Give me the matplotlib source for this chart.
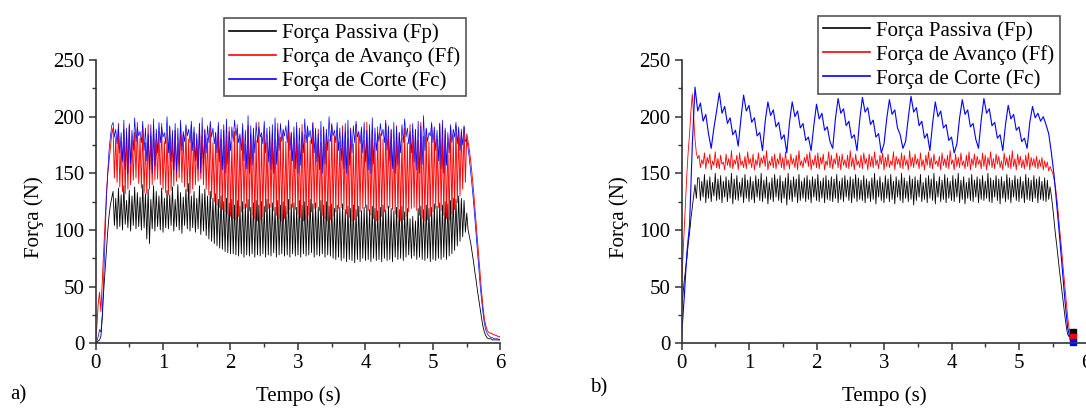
import numpy as np
import matplotlib
matplotlib.use("Agg")
import matplotlib.pyplot as plt
from matplotlib.ticker import MultipleLocator

plt.rcParams['font.family'] = ['Liberation Serif', 'DejaVu Serif']

# ---------------- data ----------------
labels = ["Força Passiva (Fp)", "Força de Avanço (Ff)", "Força de Corte (Fc)"]
xlabel = "Tempo (s)"
ylabel = "Força (N)"
panel_tags = ["a)", "b)"]
xticks = [0, 1, 2, 3, 4, 5, 6]
yticks = [0, 50, 100, 150, 200, 250]

# sampling interval of each recorded signal (s): [Fp, Ff, Fc]
dt_a = [0.02, 0.02, 0.02]
dt_b = [0.02, 0.02, 0.04]

# panel a) -- 301 samples each, t = 0 ... 6.0 s
fp_a = [0, 1, 2, 3, 6, 22, 45, 62, 80, 98, 112, 122, 128,
        134, 104, 128, 101, 137, 103, 131, 100, 139, 105, 126, 102, 135, 99, 130, 104, 138, 101, 133, 103,
        129, 100, 140, 102, 132, 92, 136, 88, 127, 101, 139, 99, 134, 103, 130, 100, 137, 98, 128, 102,
        135, 101, 131, 104, 138, 99, 127, 103, 140, 100, 133, 97, 129, 104, 136, 101, 141, 99, 130, 102,
        134, 98, 128, 101, 139, 96, 132, 99,
        136, 95, 130, 92, 134, 90, 128, 88, 132, 86, 127, 84, 130, 83, 125, 81, 128, 80, 124, 79, 127, 79,
        122, 78, 126, 77, 121, 79, 125, 76, 123, 78, 127, 77, 120, 79, 124, 76, 126, 78, 122, 77,
        125, 79, 121, 76, 127, 78, 123, 77, 124, 80, 120, 76, 126, 78, 122, 79, 125, 77, 121, 78,
        127, 76, 123, 79, 124, 77, 120, 78, 126, 76, 122, 79, 125, 77, 121, 78, 127, 80, 123, 76,
        124, 78, 120, 77, 126, 79, 122, 76, 125, 78, 121, 77, 123, 75, 119, 74, 122, 76, 120, 73,
        123, 75, 118, 72, 121, 74, 119, 73, 122, 71,
        118, 74, 121, 72, 117, 75, 120, 73, 122, 74, 118, 72, 121, 75, 119, 73, 117, 74, 120, 72,
        122, 75, 118, 73, 121, 74, 119, 72, 117, 76, 120, 74, 118, 75, 121, 73, 116, 76, 119, 78,
        110, 75, 112, 77, 108, 74, 119, 76, 121, 74, 118, 73, 122, 75, 119, 72, 120, 74, 123, 73,
        121, 75, 124, 74, 122, 76, 125, 74, 123, 77,
        126, 79, 128, 82, 127, 86, 130, 90, 128, 94, 126, 98,
        115, 100, 94, 88, 80, 72, 63, 55, 46, 38, 30, 22, 15, 10, 7, 5, 4, 4, 4, 3, 3, 3, 3, 3, 3, 3]

ff_a = [2, 15, 35, 45, 28, 55, 80, 105, 130, 148, 160, 172, 185,
        190, 146, 182, 142, 194, 138, 178, 134, 188, 132, 184, 136, 192, 140, 179, 144, 186, 146, 195, 141,
        181, 137, 189, 133, 177, 132, 193, 136, 183, 140, 190, 144, 180, 145, 187, 140, 194, 136, 178, 133,
        185, 131, 191, 135, 182, 139, 188, 143, 176, 146, 193, 142, 184, 138, 189, 134, 180, 132, 192, 136,
        186, 140, 179, 143, 194, 145, 183, 140,
        189, 136, 181, 131, 190, 128, 177, 125, 186, 122, 192, 120, 180, 118, 188, 116, 183, 114, 191, 112, 178, 110,
        187, 109, 193, 112, 181, 116, 189, 119, 176, 120, 192, 117, 184, 113, 190, 110, 179, 108, 195, 109,
        183, 112, 188, 116, 177, 119, 191, 120, 185, 117, 180, 113, 194, 110, 182, 108, 189, 110, 178, 114,
        192, 118, 186, 120, 181, 118, 190, 114, 176, 111, 193, 108, 184, 109, 188, 113, 179, 116, 195, 119,
        182, 120, 189, 117, 177, 113, 191, 110, 185, 108, 180, 109, 194, 112, 183, 116, 188, 119, 178, 120,
        192, 118, 186, 114, 181, 111, 190, 108, 176, 109, 193, 112, 184, 116, 189, 119, 179, 120, 195, 117,
        182, 113, 188, 110, 177, 108, 191, 109, 185, 112, 180, 116, 194, 119, 183, 120, 189, 118, 178, 114,
        192, 111, 186, 108, 181, 109, 190, 112, 177, 116, 193, 119, 184, 120, 188, 117, 179, 113, 195, 110,
        183, 108, 189, 109, 178, 112, 191, 116, 185, 119, 180, 120, 194, 117, 182, 113, 188, 110, 177, 109,
        190, 114, 184, 118, 192, 124, 186, 130, 189, 136, 191, 142,
        185, 178, 170, 160, 148, 135, 120, 105, 90, 75, 60, 45, 33, 22, 16, 12, 10, 9, 9, 8, 8, 7, 7, 6, 6, 5]

fc_a = [0, 2, 6, 12, 10, 25, 55, 90, 125, 150, 170, 182, 192,
        195, 182, 189, 176, 192, 168, 186, 160, 197, 153, 190, 150, 194, 158, 188, 170, 199, 178, 191, 183,
        187, 177, 196, 170, 190, 161, 185, 154, 193, 150, 198, 157, 189, 168, 195, 177, 191, 182, 186, 176,
        200, 168, 192, 160, 188, 153, 194, 150, 190, 158, 197, 170, 187, 178, 193, 183, 189, 177, 196, 170,
        191, 161, 185, 154, 194, 150, 199, 157, 188, 168, 192, 177, 196, 182, 190, 176, 186, 168, 195, 160,
        189, 153, 193, 150, 198, 158, 187, 170, 191, 178, 197, 183, 190, 177, 185, 170, 194, 161, 188, 154,
        201, 150, 192, 157, 189, 168, 195, 177, 191, 182, 186, 176, 196, 168, 190, 160, 187, 153, 193, 150,
        199, 158, 189, 170, 194, 178, 188, 183, 192, 177, 197, 170, 186, 161, 191, 154, 195, 150, 190, 157,
        187, 168, 198, 177, 192, 182, 188, 176, 194, 168, 190, 160, 185, 153, 196, 150, 191, 158, 189, 170,
        200, 178, 193, 183, 188, 177, 195, 170, 190, 161, 186, 154, 194, 150, 197, 157, 189, 168, 192, 177,
        196, 182, 187, 176, 191, 168, 195, 160, 188, 153, 193, 150, 199, 158, 190, 170, 186, 178, 194, 183,
        189, 177, 197, 170, 192, 161, 188, 154, 195, 150, 191, 157, 186, 168, 193, 177, 198, 182, 190, 176,
        187, 168, 194, 160, 189, 153, 196, 150, 192, 158, 201, 170, 190, 178, 186, 183, 195, 177, 191, 170,
        188, 161, 194, 154, 197, 150, 190, 157, 186, 168, 193, 177, 189, 182, 195, 176, 191, 170, 187, 175,
        192, 178,
        180, 172, 162, 150, 138, 125, 110, 95, 80, 65, 50, 38, 27, 18, 12, 9, 7, 6, 5, 5, 4, 4, 4, 4, 3, 3]

# panel b) -- Fp, Ff: 291 samples (t = 0 ... 5.8 s); Fc: 146 samples
fp_b = [30, 42, 55, 65, 75, 88, 98, 110, 120, 130, 140, 128, 146,
        146, 126, 143, 129, 149, 124, 144, 128, 147, 125, 142, 130, 150, 126, 145, 127, 148, 124, 143, 129,
        147, 125, 144, 128, 150, 123, 145, 127, 148, 126, 142, 129, 146, 124, 149, 128, 144, 125, 147, 127,
        143, 124, 148, 129, 145, 126, 150, 125, 144, 128, 147, 123, 142, 127, 146, 125, 149, 129, 145, 126,
        148, 124, 143, 128, 146, 122, 150, 127, 144, 125, 147, 129, 145, 124, 149, 126, 143, 128, 146, 125,
        148, 127, 144, 124, 147, 129, 145, 126, 149, 125, 143, 128, 146, 124, 148, 127, 144, 126, 147, 125,
        145, 128, 149, 124, 143, 127, 146, 125, 148, 129, 144, 126, 147, 124, 145, 128, 149, 125, 146, 127,
        144, 126, 148, 124, 145, 128, 143, 125, 146, 127, 150, 123, 144, 129, 147, 126, 142, 124, 148, 128,
        145, 125, 149, 127, 143, 123, 147, 129, 144, 126, 150, 124, 146, 128, 143, 125, 148, 127, 145, 122,
        147, 126, 144, 129, 149, 125, 142, 127, 146, 124, 148, 128, 145, 126, 150, 123, 143, 129, 147, 125,
        144, 127, 149, 124, 146, 128, 143, 126, 148, 125, 145, 129, 150, 124, 144, 127, 147, 123, 142, 128,
        146, 126, 149, 125, 144, 129, 147, 124, 145, 127, 148, 126, 143, 128, 150, 125, 146, 124, 144, 129,
        148, 126, 145, 123, 147, 128, 143, 125, 149, 127, 146, 124, 144, 129, 148, 126, 145, 125, 147, 128,
        143, 124, 149, 127, 146, 126, 144, 125, 148, 128, 145, 124, 147, 127, 143, 126, 146, 125, 144, 127,
        138, 130, 120, 108, 96, 86, 75, 64, 54, 44, 34, 24, 15, 8, 6, 8, 9, 10]

ff_b = [45, 75, 100, 125, 150, 170, 185, 205, 220, 200, 180, 168, 163,
        166, 155, 162, 158, 168, 154, 164, 159, 167, 153, 161, 157, 169, 155, 163, 154, 166, 158, 160, 153,
        167, 157, 163, 155, 170, 154, 162, 158, 166, 153, 168, 157, 161, 155, 165, 154, 169, 158, 163, 155,
        167, 153, 162, 157, 168, 155, 164, 159, 166, 156, 170, 153, 161, 157, 165, 155, 167, 154, 163, 158,
        168, 155, 164, 153, 169, 157, 162, 154, 167, 158, 163, 155, 166, 153, 170, 157, 161, 155, 164, 159,
        167, 156, 169, 153, 162, 157, 166, 155, 168, 154, 164, 158, 167, 153, 161, 157, 169, 155, 166, 154,
        163, 158, 168, 155, 165, 153, 167, 157, 162, 155, 166, 154, 170, 156, 164, 153, 167, 157, 161, 155,
        166, 154, 168, 158, 163, 153, 167, 156, 165, 155, 169, 157, 162, 154, 166, 158, 168, 153, 164, 156,
        167, 155, 161, 157, 169, 153, 165, 158, 163, 155, 168, 154, 166, 157, 162, 153, 170, 156, 164, 155,
        167, 158, 163, 154, 168, 156, 162, 153, 166, 157, 169, 155, 164, 154, 167, 158, 161, 156, 165, 153,
        168, 157, 163, 155, 166, 154, 170, 158, 162, 153, 167, 156, 164, 155, 168, 157, 161, 154, 166, 156,
        169, 153, 163, 157, 167, 155, 165, 158, 162, 154, 168, 156, 166, 153, 164, 157, 169, 155, 163, 154,
        167, 158, 165, 155, 161, 153, 168, 157, 164, 155, 166, 154, 170, 156, 163, 153, 167, 157, 165, 155,
        162, 154, 166, 156, 168, 153, 164, 157, 163, 155, 165, 154, 162, 156, 164, 153, 161, 155, 160, 152,
        156, 153, 150, 145, 138, 128, 116, 102, 90, 76, 63, 50, 37, 24, 14, 8, 7, 6]

fc_b = [5, 40, 80, 105, 175, 226, 205,
        212, 196, 202, 185, 172, 190, 205, 221, 203, 209,
        194, 199, 184, 188, 174, 198, 219, 205, 210, 195,
        199, 183, 186, 170, 196, 213, 201, 206, 191, 195,
        180, 184, 168, 195, 213, 200, 205, 190, 194, 179,
        182, 170, 192, 211, 198, 203, 188, 191, 178, 172,
        198, 216, 203, 207, 192, 196, 181, 184, 170, 197,
        217, 204, 208, 193, 197, 182, 185, 168, 176, 198,
        215, 202, 206, 190, 184, 172, 178, 199, 218, 204,
        208, 192, 196, 181, 185, 170, 194, 213, 200, 205,
        190, 193, 179, 182, 168, 176, 199, 215, 202, 206,
        191, 194, 180, 172, 197, 216, 203, 207, 192, 195,
        181, 184, 170, 193, 210, 198, 202, 188, 191, 178,
        181, 172, 195, 209, 199, 203, 196, 200, 193, 185,
        168, 148, 122, 95, 66, 38, 14, 3, 1]

colors = ["#000000", "#ff0000", "#0000ff"]
line_widths_a = [0.6, 0.65, 0.5]
line_widths_b = [0.6, 0.6, 0.8]

# ---------------- figure ----------------
W, H = 1086, 408
fig = plt.figure(figsize=(W / 100, H / 100), dpi=100)
FS = 15


def px(x, y):
    return x / W, 1 - y / H


def make_panel(rect, dts, lws, series, legend_xy, tag_xy, xl_xy, yl_xy, tag):
    ax = fig.add_axes(rect)
    handles = []
    for vals, dt, lw, c, lab in zip(series, dts, lws, colors, labels):
        t = np.arange(len(vals)) * dt
        h, = ax.plot(t, vals, color=c, lw=lw, label=lab)
        handles.append(h)
    ax.set_xlim(0, 6)
    ax.set_ylim(0, 250)
    ax.set_xticks(xticks)
    ax.set_yticks(yticks)
    ax.xaxis.set_minor_locator(MultipleLocator(0.5))
    ax.yaxis.set_minor_locator(MultipleLocator(25))
    for s in ["top", "right"]:
        ax.spines[s].set_visible(False)
    for s in ["left", "bottom"]:
        ax.spines[s].set_color("#333333")
        ax.spines[s].set_linewidth(1.2)
    ax.tick_params(which="major", direction="out", length=5, width=1.1,
                   color="#333333", labelsize=FS, pad=3)
    ax.tick_params(which="minor", direction="out", length=3, width=1.0,
                   color="#333333")
    ax.patch.set_alpha(0)
    leg_handles = [plt.Line2D([], [], color=c, lw=1.2) for c in colors]
    lg = ax.legend(leg_handles, labels, loc="upper left",
                   bbox_to_anchor=px(*legend_xy), bbox_transform=fig.transFigure,
                   fontsize=FS, frameon=True, fancybox=False, framealpha=1,
                   edgecolor="#555555", borderpad=0.25, labelspacing=0.2,
                   handlelength=2.25, handletextpad=0.3, borderaxespad=0)
    lg.get_frame().set_linewidth(1.2)
    fig.text(*px(*xl_xy), xlabel, fontsize=FS, ha="center", va="center")
    fig.text(*px(*yl_xy), ylabel, fontsize=FS, ha="center", va="center",
             rotation=90)
    fig.text(*px(*tag_xy), tag, fontsize=FS, ha="left", va="center")
    return ax, handles


ax_a, _ = make_panel([95.5 / W, (H - 343.3) / H, 405 / W, 283.3 / H], dt_a,
                     line_widths_a, [fp_a, ff_a, fc_a], (224, 18.3), (10, 395),
                     (298, 396), (34.6, 217), panel_tags[0])
ax_b, hb = make_panel([681.5 / W, (H - 343.3) / H, 405 / W, 283.3 / H], dt_b,
                      line_widths_b, [fp_b, ff_b, fc_b], (818, 15.7), (590, 388),
                      (884, 396), (619, 217), panel_tags[1])
# end-of-record markers in panel b)
for vals, dt, c in zip([fp_b, ff_b, fc_b], dt_b, colors):
    t = np.arange(len(vals)) * dt
    ax_b.plot(t[-1:], vals[-1:], marker="s", ms=4, color=c, mec=c, ls="none",
              clip_on=False)

fig.savefig("out.png", dpi=100)
